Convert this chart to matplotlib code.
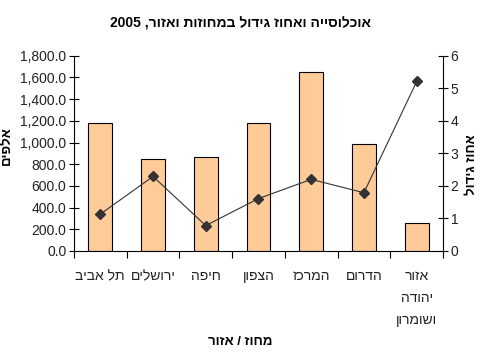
import numpy as np
import matplotlib.pyplot as plt
from matplotlib.ticker import FuncFormatter

plt.rcParams['font.family'] = ['Liberation Sans', 'DejaVu Sans']


def heb(s):
    # matplotlib has no bidi support: reverse Hebrew to visual order
    return s[::-1]


# Data
regions = ['תל אביב', 'ירושלים', 'חיפה', 'הצפון', 'המרכז', 'הדרום', 'אזור\nיהודה\nושומרון']
population = [1184, 846, 865, 1184, 1652, 988, 255]      # thousands
growth = [1.13, 2.29, 0.78, 1.61, 2.20, 1.79, 5.21]      # percent

labels = ['\n'.join(heb(line) for line in r.split('\n')) for r in regions]
x = np.arange(len(regions))

fig = plt.figure(figsize=(4.8, 3.6), dpi=100)
ax = fig.add_axes([0.154, 0.303, 0.769, 0.542])
ax2 = ax.twinx()

ax.bar(x, population, width=0.45, color='#FFCC99', edgecolor='black', linewidth=0.8, zorder=2)
ax2.plot(x, growth, color='#333333', linewidth=0.8, marker='D', markersize=5.5,
         markerfacecolor='#333333', markeredgecolor='#333333', zorder=3)

ax.set_xlim(-0.5, len(regions) - 0.5)
ax.set_ylim(0, 1800)
ax.set_yticks(np.arange(0, 1801, 200))
ax.yaxis.set_major_formatter(FuncFormatter(lambda v, p: f'{v:,.1f}'))
ax2.set_ylim(0, 6)
ax2.set_yticks(range(0, 7))

# category boundaries as tick marks, labels at centres
ax.set_xticks(np.arange(-0.5, len(regions)), labels=[''] * (len(regions) + 1))
ax.set_xticks(x, labels=labels, minor=True)
ax.tick_params(axis='x', which='major', direction='out', length=5, width=0.8)
ax.tick_params(axis='x', which='minor', length=0, pad=13, labelsize=10)
for t in ax.get_xticklabels(minor=True):
    t.set_verticalalignment('top')
    t.set_multialignment('center')
    t.set_linespacing(1.75)
    t.set_color('#222222')

ax.tick_params(axis='y', direction='inout', length=7, width=0.8, labelsize=10, pad=2,
               labelcolor='#222222')
ax2.tick_params(axis='y', direction='inout', length=7, width=0.8, labelsize=10, pad=2,
                labelcolor='#222222')

for a in (ax, ax2):
    a.spines['top'].set_visible(False)
    for s in a.spines.values():
        s.set_linewidth(0.8)
ax.spines['right'].set_visible(False)
ax2.spines['left'].set_visible(False)
ax2.spines['bottom'].set_visible(False)

ax.set_ylabel(heb('אלפים'), fontsize=9.5, fontweight='bold')
ax.yaxis.set_label_coords(-0.165, 0.54)
ax2.set_ylabel(heb('אחוז גידול'), fontsize=9.5, fontweight='bold', rotation=90)
ax2.yaxis.set_label_coords(1.062, 0.44)

fig.text(0.5, 1 - 342 / 360, heb('מחוז / אזור'), ha='center', va='center',
         fontsize=9.5, fontweight='bold')
fig.suptitle('2005 ,' + heb('אוכלוסייה ואחוז גידול במחוזות ואזור'),
             y=0.955, fontsize=10, fontweight='bold')

fig.savefig('out.png', dpi=100)
